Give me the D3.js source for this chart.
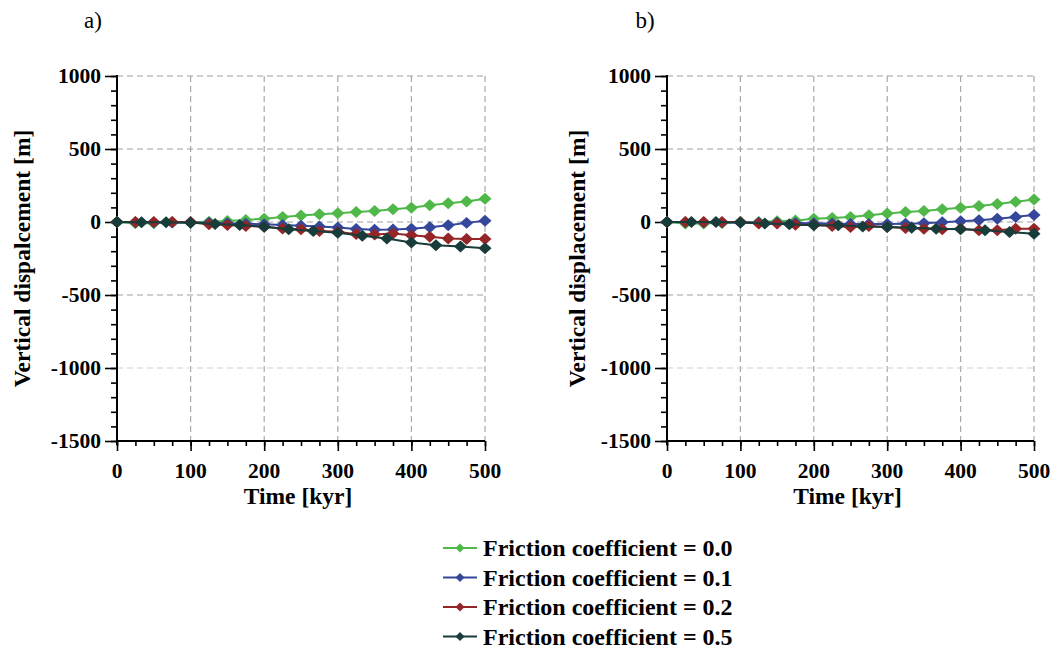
<!DOCTYPE html>
<html>
<head>
<meta charset="utf-8">
<script src="https://cdn.jsdelivr.net/npm/d3@7"></script>
<style>
  body { margin: 0; background: #fff; }
  svg text { font-family: "Liberation Serif", "Times New Roman", serif; }
</style>
</head>
<body>
<div id="main"></div>
<script>
//data
const time25 = [0, 25, 50, 75, 100, 125, 150, 175, 200, 225, 250, 275, 300, 325, 350, 375, 400, 425, 450, 475, 500];
const time33 = [0, 33.3, 66.7, 100, 133.3, 166.7, 200, 233.3, 266.7, 300, 333.3, 366.7, 400, 433.3, 466.7, 500];

const greenA = [0, -9, -9, -2, -2, 2, 7, 14, 23, 35, 44, 53, 60, 69, 76, 87, 97, 115, 129, 140, 159];
const blueA = [0, -2, -3, -3, -3, -5, -8, -12, -16, -20, -25, -30, -38, -48, -53, -52, -46, -36, -22, -6, 8];
const redA = [0, 0, 0, 0, 0, -16, -20, -27, -32, -44, -50, -62, -67, -83, -85, -78, -90, -101, -113, -117, -117];
const darkA = [0, -2, -2, -5, -14, -21, -32, -50, -62, -74, -94, -113, -140, -159, -167, -180];

const greenB = [0, -11, -11, -7, 0, 0, 5, 11, 23, 28, 35, 46, 58, 69, 76, 87, 97, 110, 124, 138, 154];
const blueB = [0, -2, -3, -3, -3, -4, -5, -7, -9, -11, -13, -14, -14, -12, -8, -2, 5, 12, 23, 35, 48];
const redB = [0, 0, 0, 0, 0, -11, -11, -18, -20, -27, -34, -27, -34, -41, -46, -50, -46, -57, -57, -46, -46];
const darkB = [0, 0, 0, -4, -11, -16, -23, -23, -30, -34, -39, -46, -50, -57, -69, -80];

const seriesNames = ['Friction coefficient = 0.0', 'Friction coefficient = 0.1',
  'Friction coefficient = 0.2', 'Friction coefficient = 0.5'];
const colors = ['#4fb848', '#35479b', '#952628', '#173c3a'];

const xTicks = [0, 100, 200, 300, 400, 500];
const yTicks = [1000, 500, 0, -500, -1000, -1500];

const panels = [
  {label: 'a)', ylabel: 'Vertical dispalcement [m]', left: 117, right: 485, labelX: 93, yTitleX: 30,
    series: [greenA, blueA, redA, darkA]},
  {label: 'b)', ylabel: 'Vertical displacement [m]', left: 667, right: 1034, labelX: 645, yTitleX: 585,
    series: [greenB, blueB, redB, darkB]}
];

//constants
const W = 1058, H = 650;
const plotTop = 76, plotBottom = 441;

const svg = d3.select('#main')
  .append('svg')
  .attr('width', W)
  .attr('height', H);

const diamond = size => d3.symbol(d3.symbolSquare, size);

panels.forEach(p => {
  const x = d3.scaleLinear().domain([0, 500]).range([p.left, p.right]);
  const y = d3.scaleLinear().domain([-1500, 1000]).range([plotBottom, plotTop]);
  const g = svg.append('g');

  // grid
  g.selectAll('.vgrid')
    .data(xTicks.slice(1))
    .enter().append('line')
    .attr('x1', d => x(d)).attr('x2', d => x(d))
    .attr('y1', plotTop).attr('y2', plotBottom)
    .attr('stroke', '#a8a8a8')
    .attr('stroke-width', 1.2)
    .attr('stroke-dasharray', '6,4');

  g.selectAll('.hgrid')
    .data(yTicks.slice(0, -1))
    .enter().append('line')
    .attr('x1', p.left).attr('x2', p.right)
    .attr('y1', d => y(d)).attr('y2', d => y(d))
    .attr('stroke', d => d === -1000 ? '#d0d0d0' : '#a0a0a0')
    .attr('stroke-width', 1.2)
    .attr('stroke-dasharray', '6,4');

  // axes
  const yAxis = d3.axisLeft(y).tickValues(yTicks).tickSize(12).tickFormat('');
  const yMinor = d3.axisLeft(y).tickValues(d3.range(-1500, 1001, 100)).tickSize(6).tickFormat('');
  const xAxis = d3.axisBottom(x).tickValues(xTicks).tickSize(10).tickFormat('');
  const xMinor = d3.axisBottom(x).tickValues(d3.range(0, 501, 25)).tickSize(5).tickFormat('');

  [yMinor, yAxis].forEach(ax => {
    g.append('g')
      .attr('class', 'axis')
      .attr('transform', `translate(${p.left},0)`)
      .call(ax)
      .call(s => s.select('.domain').attr('stroke-width', 2).attr('d', `M0,${plotTop - 1}V${plotBottom + 4}`))
      .call(s => s.selectAll('.tick line').attr('stroke-width', 1.6));
  });
  [xMinor, xAxis].forEach(ax => {
    g.append('g')
      .attr('class', 'axis')
      .attr('transform', `translate(0,${plotBottom})`)
      .call(ax)
      .call(s => s.select('.domain').attr('stroke-width', 2).attr('d', `M${p.left},0H${p.right}`))
      .call(s => s.selectAll('.tick line').attr('stroke-width', 1.6));
  });

  // tick labels
  g.selectAll('.ylab')
    .data(yTicks)
    .enter().append('text')
    .attr('x', p.left - 16)
    .attr('y', d => y(d) + 7)
    .attr('text-anchor', 'end')
    .style('font-size', '21.5px')
    .style('font-weight', 'bold')
    .text(d => d);

  g.selectAll('.xlab')
    .data(xTicks)
    .enter().append('text')
    .attr('x', d => x(d))
    .attr('y', 478)
    .attr('text-anchor', 'middle')
    .style('font-size', '21.5px')
    .style('font-weight', 'bold')
    .text(d => d);

  // titles
  g.append('text')
    .attr('x', (p.left + p.right) / 2 - 3)
    .attr('y', 504)
    .attr('text-anchor', 'middle')
    .style('font-size', '23.5px')
    .style('font-weight', 'bold')
    .text('Time [kyr]');

  g.append('text')
    .attr('transform', `translate(${p.yTitleX},${(plotTop + plotBottom) / 2}) rotate(-90)`)
    .attr('text-anchor', 'middle')
    .style('font-size', '23.5px')
    .style('font-weight', 'bold')
    .text(p.ylabel);

  g.append('text')
    .attr('x', p.labelX)
    .attr('y', 28)
    .attr('text-anchor', 'middle')
    .style('font-size', '23px')
    .text(p.label);

  // series
  p.series.forEach((vals, i) => {
    const times = vals.length === time25.length ? time25 : time33;
    const pts = vals.map((v, j) => [times[j], v]);
    const line = d3.line().x(d => x(d[0])).y(d => y(d[1]));

    g.append('path')
      .datum(pts)
      .attr('fill', 'none')
      .attr('stroke', colors[i])
      .attr('stroke-width', 2)
      .attr('d', line);

    g.selectAll(`.m${i}`)
      .data(pts)
      .enter().append('path')
      .attr('transform', d => `translate(${x(d[0])},${y(d[1])}) scale(1,0.92) rotate(45)`)
      .attr('d', diamond(85))
      .attr('fill', colors[i]);
  });
});

// legend
const legend = svg.append('g').attr('transform', 'translate(443,548)');
seriesNames.forEach((name, i) => {
  const row = legend.append('g').attr('transform', `translate(0,${i * 29.5})`);
  row.append('line')
    .attr('x1', 0).attr('x2', 34)
    .attr('stroke', colors[i])
    .attr('stroke-width', 2);
  row.append('path')
    .attr('transform', 'translate(17,0) rotate(45)')
    .attr('d', diamond(40))
    .attr('fill', colors[i]);
  row.append('text')
    .attr('x', 40)
    .attr('y', 8)
    .style('font-size', '24px')
    .style('font-weight', 'bold')
    .text(name);
});
</script>
</body>
</html>
